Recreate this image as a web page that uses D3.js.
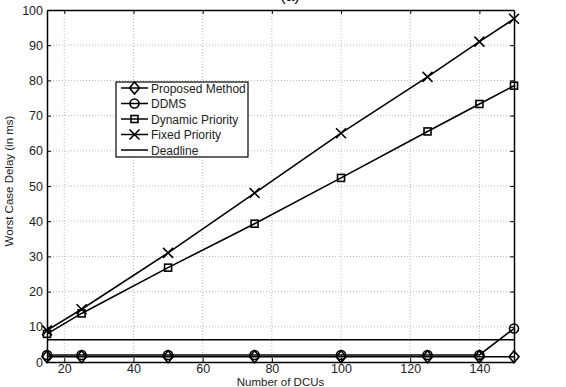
<!DOCTYPE html>
<html>
<head>
<meta charset="utf-8">
<script src="https://cdn.jsdelivr.net/npm/d3@7"></script>
<style>
  body { margin: 0; background: #fff; }
  svg { display: block; font-family: "Liberation Sans", Arial, sans-serif; }
</style>
</head>
<body>
<svg id="chart" width="566" height="387"></svg>
<script>
/* data */
const dcus = [15, 25, 50, 75, 100, 125, 140, 150];
const proposed = [1.5, 1.5, 1.5, 1.5, 1.5, 1.5, 1.5, 1.5];
const ddms = [2, 2, 2, 2, 2, 2, 2, 9.5];
const dynamicPriority = [8, 13.8, 26.8, 39.3, 52.3, 65.5, 73.3, 78.5];
const fixedPriority = [9, 15, 31, 48, 65, 81, 91, 97.5];
const deadline = 6.3;
const xTicks = [20, 40, 60, 80, 100, 120, 140];
const yTicks = [0, 10, 20, 30, 40, 50, 60, 70, 80, 90, 100];

const series = [
  { name: "Proposed Method", values: proposed, marker: "diamond" },
  { name: "DDMS", values: ddms, marker: "circle" },
  { name: "Dynamic Priority", values: dynamicPriority, marker: "square" },
  { name: "Fixed Priority", values: fixedPriority, marker: "cross" }
];

const svg = d3.select("#chart");
const margin = { top: 10, right: 52, bottom: 25, left: 47 };
const innerW = 566 - margin.left - margin.right;
const innerH = 387 - margin.top - margin.bottom;
const g = svg.append("g").attr("transform", `translate(${margin.left},${margin.top})`);

const x = d3.scaleLinear().domain([15, 150]).range([0, innerW]);
const y = d3.scaleLinear().domain([0, 100]).range([innerH, 0]);

/* title, cut off at the top like in the source figure */
svg.append("text").attr("x", 290).attr("y", 0.5).attr("text-anchor", "middle")
  .attr("font-size", 16).text("(a)");

/* grid */
g.append("g").selectAll("line").data(xTicks).join("line")
  .attr("x1", d => x(d)).attr("x2", d => x(d)).attr("y1", 0).attr("y2", innerH)
  .attr("stroke", "#bbb").attr("stroke-dasharray", "1,2");
g.append("g").selectAll("line").data(yTicks.slice(1, -1)).join("line")
  .attr("x1", 0).attr("x2", innerW).attr("y1", d => y(d)).attr("y2", d => y(d))
  .attr("stroke", "#bbb").attr("stroke-dasharray", "1,2");

/* axes, MATLAB style inner ticks */
const axB = g.append("g").attr("transform", `translate(0,${innerH})`)
  .call(d3.axisBottom(x).tickValues(xTicks).tickSizeInner(-4).tickSizeOuter(0).tickPadding(2));
const axT = g.append("g")
  .call(d3.axisTop(x).tickValues(xTicks).tickSizeInner(-4).tickSizeOuter(0).tickFormat(""));
const axL = g.append("g")
  .call(d3.axisLeft(y).tickValues(yTicks).tickSizeInner(-4).tickSizeOuter(0).tickPadding(4));
const axR = g.append("g").attr("transform", `translate(${innerW},0)`)
  .call(d3.axisRight(y).tickValues(yTicks).tickSizeInner(-4).tickSizeOuter(0).tickFormat(""));
[axB, axT, axL, axR].forEach(a => {
  a.select(".domain").attr("stroke", "#000").attr("stroke-width", 1.5);
  a.selectAll("text").attr("font-size", 12.5).attr("fill", "#222").attr("font-family", "Liberation Sans, Arial, sans-serif");
});

g.append("text").attr("x", innerW / 2).attr("y", innerH + 24).attr("text-anchor", "middle")
  .attr("font-size", 11.5).attr("fill", "#222").text("Number of DCUs");
g.append("text").attr("transform", "rotate(-90)").attr("x", -innerH / 2 + 5).attr("y", -34)
  .attr("text-anchor", "middle").attr("font-size", 11.5).attr("fill", "#222").text("Worst Case Delay (in ms)");

/* markers */
function drawMarker(sel, type, cx, cy) {
  const m = sel.append("g").attr("transform", `translate(${cx},${cy})`)
    .attr("fill", "none").attr("stroke", "#000").attr("stroke-width", 1.6);
  if (type === "diamond") m.append("path").attr("d", "M0,-6L5,0L0,6L-5,0Z");
  if (type === "circle") m.append("circle").attr("r", 4.5);
  if (type === "square") m.append("rect").attr("x", -3.5).attr("y", -3.5).attr("width", 7).attr("height", 7);
  if (type === "cross") m.append("path").attr("d", "M-5,-5L5,5M-5,5L5,-5");
}

const line = d3.line().x(d => x(d[0])).y(d => y(d[1]));

/* deadline */
g.append("line").attr("x1", 0).attr("x2", innerW).attr("y1", y(deadline)).attr("y2", y(deadline))
  .attr("stroke", "#000").attr("stroke-width", 1.5);

series.forEach(s => {
  const pts = dcus.map((d, i) => [d, s.values[i]]);
  g.append("path").datum(pts).attr("fill", "none").attr("stroke", "#000")
    .attr("stroke-width", 1.6).attr("d", line);
  pts.forEach(p => drawMarker(g, s.marker, x(p[0]), y(p[1])));
});

/* legend */
const leg = svg.append("g").attr("transform", "translate(116,82)");
leg.append("rect").attr("width", 132).attr("height", 75).attr("fill", "#fff")
  .attr("stroke", "#000").attr("stroke-width", 1.2);
const legItems = series.map(s => ({ name: s.name, marker: s.marker }))
  .concat([{ name: "Deadline", marker: null }]);
legItems.forEach((it, i) => {
  const yy = 6 + i * 15.5;
  leg.append("line").attr("x1", 5).attr("x2", 32).attr("y1", yy).attr("y2", yy)
    .attr("stroke", "#000").attr("stroke-width", 1.5);
  if (it.marker) drawMarker(leg, it.marker, 18.5, yy);
  leg.append("text").attr("x", 35).attr("y", yy + 4.5).attr("font-size", 12)
    .attr("fill", "#222").text(it.name);
});
</script>
</body>
</html>
